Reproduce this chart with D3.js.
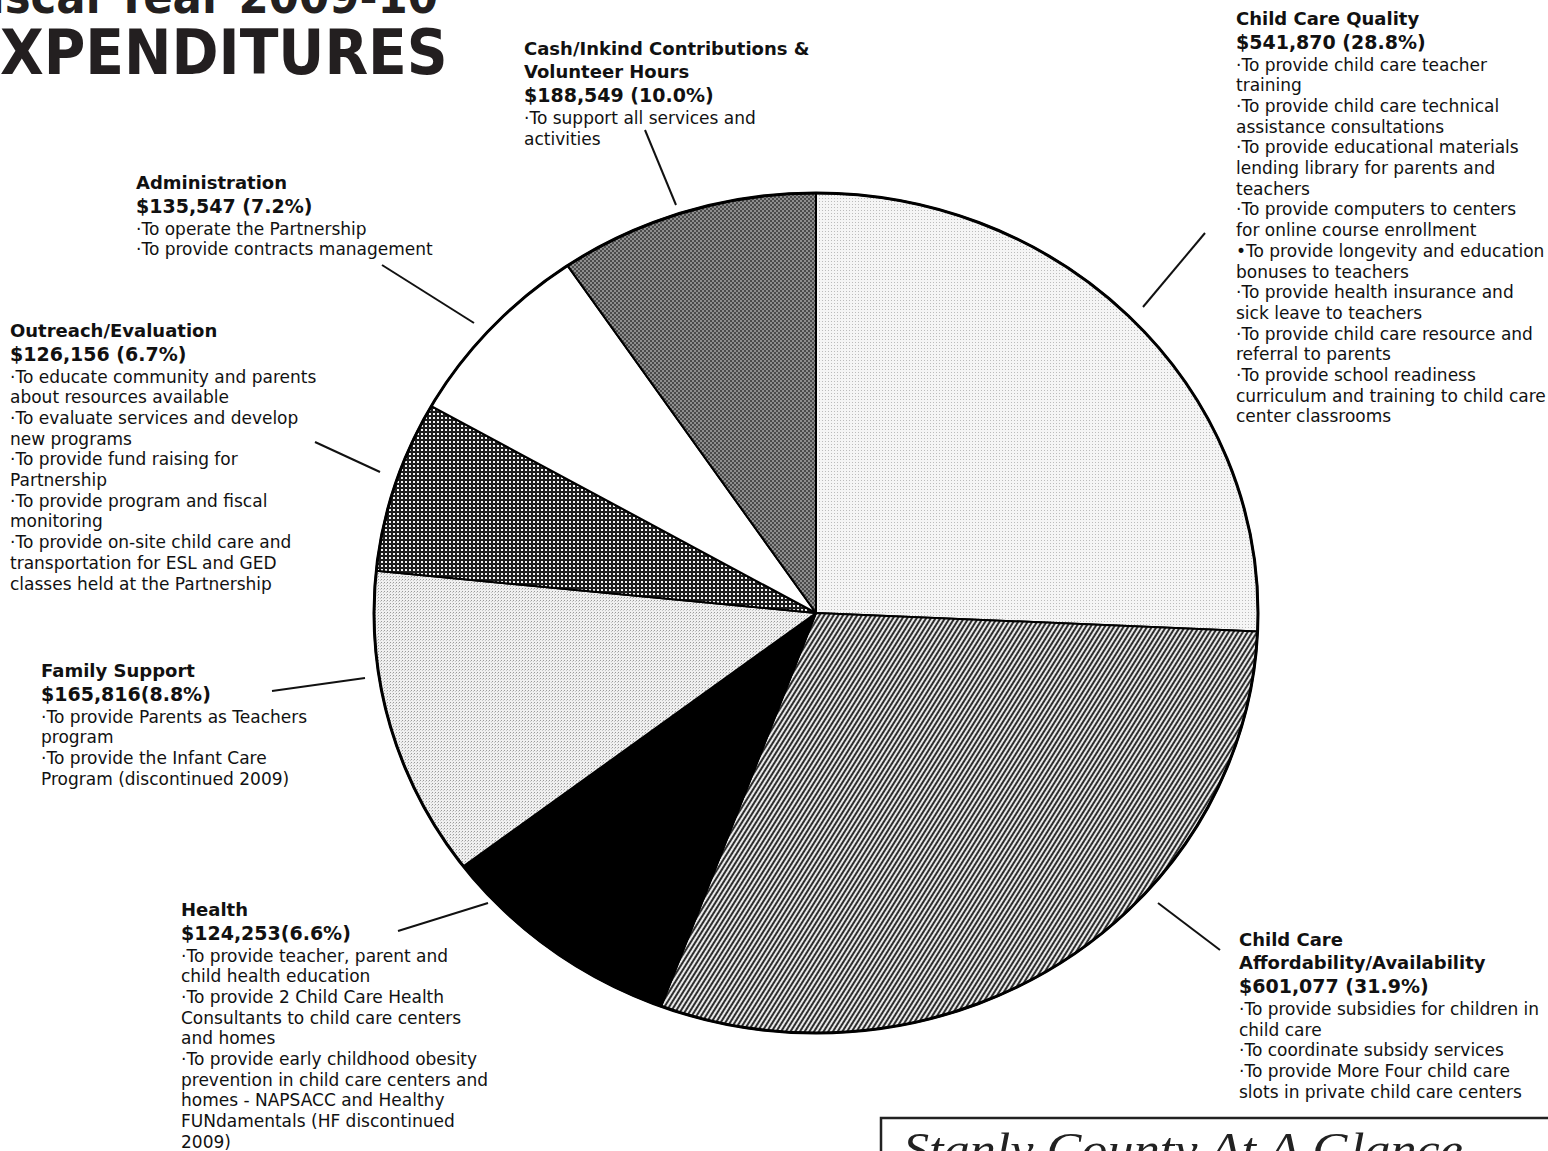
<!DOCTYPE html>
<html>
<head>
<meta charset="utf-8">
<script src="https://cdn.jsdelivr.net/npm/d3@7"></script>
<style>
  html, body { margin: 0; padding: 0; background: #fff; overflow: hidden; }
  svg { display: block; }
</style>
</head>
<body>
<svg id="chart" width="1548" height="1151"></svg>
<script>
// ---------------- DATA ----------------
const categories = [
  "Child Care Quality",
  "Child Care Affordability/Availability",
  "Health",
  "Family Support",
  "Outreach/Evaluation",
  "Administration",
  "Cash/Inkind Contributions & Volunteer Hours"
];
const amounts = [541870, 601077, 124253, 165816, 126156, 135547, 188549];
const percentLabels = ["28.8%", "31.9%", "6.6%", "8.8%", "6.7%", "7.2%", "10.0%"];
// slice sizes as actually drawn in the picture (percent of the full circle)
const drawnShares = [25.7, 30.0, 9.0, 11.9, 6.6, 7.3, 9.5];
const titleLines = [
  ["Child Care Quality"],
  ["Child Care", "Affordability/Availability"],
  ["Health"],
  ["Family Support"],
  ["Outreach/Evaluation"],
  ["Administration"],
  ["Cash/Inkind Contributions &", "Volunteer Hours"]
];
const amountSpace = [" ", " ", "", "", " ", " ", " "];
const bulletLines = [
  ["\u00B7To provide child care teacher", "training",
   "\u00B7To provide child care technical", "assistance consultations",
   "\u00B7To provide educational materials", "lending library for parents and", "teachers",
   "\u00B7To provide computers to centers", "for online course enrollment",
   "\u2022To provide longevity and education", "bonuses to teachers",
   "\u00B7To provide health insurance and", "sick leave to teachers",
   "\u00B7To provide child care resource and", "referral to parents",
   "\u00B7To provide school readiness", "curriculum and training to child care", "center classrooms"],
  ["\u00B7To provide subsidies for children in", "child care",
   "\u00B7To coordinate subsidy services",
   "\u00B7To provide More Four child care", "slots in private child care centers"],
  ["\u00B7To provide teacher, parent and", "child health education",
   "\u00B7To provide 2 Child Care Health", "Consultants to child care centers", "and homes",
   "\u00B7To provide early childhood obesity", "prevention in child care centers and",
   "homes - NAPSACC and Healthy", "FUNdamentals (HF discontinued", "2009)"],
  ["\u00B7To provide Parents as Teachers", "program",
   "\u00B7To provide the Infant Care", "Program (discontinued 2009)"],
  ["\u00B7To educate community and parents", "about resources available",
   "\u00B7To evaluate services and develop", "new programs",
   "\u00B7To provide fund raising for", "Partnership",
   "\u00B7To provide program and fiscal", "monitoring",
   "\u00B7To provide on-site child care and", "transportation for ESL and GED", "classes held at the Partnership"],
  ["\u00B7To operate the Partnership", "\u00B7To provide contracts management"],
  ["\u00B7To support all services and", "activities"]
];
const headingTop = "Fiscal Year 2009-10";
const headingMain = "XPENDITURES";
const boxTitle = "Stanly County At A Glance";

// ---------------- LAYOUT / STYLE ----------------
const cx = 816, cy = 613, rx = 442, ry = 420;
const fills = ["url(#dotsLight)", "url(#diag)", "#000", "url(#dotsLight2)", "url(#grid)", "#fff", "url(#checker)"];
const FONT = "'DejaVu Sans', Verdana, sans-serif";
// label block: x, y of first line center; leader line endpoints
const blocks = [
  {x: 1236, y: 18,  line: [1205, 233, 1143, 307]},
  {x: 1239, y: 939, line: [1158, 903, 1220, 950]},
  {x: 181,  y: 909, line: [398, 931, 488, 903]},
  {x: 41,   y: 670, line: [272, 691, 365, 678]},
  {x: 10,   y: 330, line: [315, 442, 380, 472]},
  {x: 136,  y: 182, line: [382, 265, 474, 323]},
  {x: 524,  y: 48,  line: [645, 130, 676, 205]}
];

const svg = d3.select("#chart");
const defs = svg.append("defs");

function pat(id, w, h, build, transform) {
  const p = defs.append("pattern").attr("id", id)
    .attr("patternUnits", "userSpaceOnUse").attr("width", w).attr("height", h);
  if (transform) p.attr("patternTransform", transform);
  build(p);
}
pat("dotsLight", 3, 3, p => {
  p.append("rect").attr("width", 3).attr("height", 3).attr("fill", "#f5f5f5");
  p.append("rect").attr("x", 0).attr("y", 0).attr("width", 1).attr("height", 1).attr("fill", "#bcbcbc");
});
pat("dotsLight2", 3, 3, p => {
  p.append("rect").attr("width", 3).attr("height", 3).attr("fill", "#f0f0f0");
  p.append("rect").attr("x", 0).attr("y", 0).attr("width", 1).attr("height", 1).attr("fill", "#9a9a9a");
  p.append("rect").attr("x", 2).attr("y", 1).attr("width", 1).attr("height", 1).attr("fill", "#c8c8c8");
});
pat("diag", 4, 4, p => {
  p.append("rect").attr("width", 4).attr("height", 4).attr("fill", "#e8e8e8");
  p.append("rect").attr("x", 0).attr("width", 2).attr("height", 4).attr("fill", "#2e2e2e");
}, "rotate(32)");
pat("grid", 4, 4, p => {
  p.append("rect").attr("width", 4).attr("height", 4).attr("fill", "#1c1c1c");
  p.append("rect").attr("x", 1).attr("y", 1).attr("width", 2).attr("height", 2).attr("fill", "#f2f2f2");
});
pat("checker", 4, 4, p => {
  p.append("rect").attr("width", 4).attr("height", 4).attr("fill", "#4a4a4a");
  p.append("rect").attr("x", 0).attr("y", 0).attr("width", 2).attr("height", 2).attr("fill", "#8e8e8e");
  p.append("rect").attr("x", 2).attr("y", 2).attr("width", 2).attr("height", 2).attr("fill", "#8e8e8e");
});

// ---------------- PIE (elliptical) ----------------
const pie = d3.pie().sort(null).value(d => d.share);
const data = categories.map((c, i) => ({name: c, share: drawnShares[i], i}));
const arcs = pie(data);
const px = a => cx + rx * Math.sin(a);
const py = a => cy - ry * Math.cos(a);
function slicePath(d) {
  const large = (d.endAngle - d.startAngle) > Math.PI ? 1 : 0;
  return `M${cx},${cy}L${px(d.startAngle)},${py(d.startAngle)}` +
         `A${rx},${ry} 0 ${large} 1 ${px(d.endAngle)},${py(d.endAngle)}Z`;
}
svg.append("g").selectAll("path").data(arcs).join("path")
  .attr("d", slicePath)
  .attr("fill", d => fills[d.data.i])
  .attr("stroke", "#000").attr("stroke-width", 2).attr("stroke-linejoin", "round");
svg.append("ellipse").attr("cx", cx).attr("cy", cy).attr("rx", rx).attr("ry", ry)
  .attr("fill", "none").attr("stroke", "#000").attr("stroke-width", 3);

// ---------------- LABELS ----------------
const fmt = d3.format("$,");
const lab = svg.append("g").attr("fill", "#111");
categories.forEach((c, i) => {
  const b = blocks[i];
  let y = b.y;
  titleLines[i].forEach(t => {
    lab.append("text").attr("x", b.x).attr("y", y + 6.5)
      .attr("font-family", FONT).attr("font-weight", 700)
      .attr("font-size", 18).text(t);
    y += 23.5;
  });
  lab.append("text").attr("x", b.x).attr("y", y + 7)
    .attr("font-family", FONT).attr("font-weight", 700)
    .attr("font-size", 19).text(fmt(amounts[i]) + amountSpace[i] + "(" + percentLabels[i] + ")");
  y += 23;
  bulletLines[i].forEach(t => {
    lab.append("text").attr("x", b.x).attr("y", y + 6)
      .attr("font-family", FONT).attr("font-size", 17).text(t);
    y += 20.7;
  });
  svg.append("line")
    .attr("x1", b.line[0]).attr("y1", b.line[1]).attr("x2", b.line[2]).attr("y2", b.line[3])
    .attr("stroke", "#111").attr("stroke-width", 2);
});

// ---------------- HEADING ----------------
const head = svg.append("text").attr("transform", "scale(0.915,1)")
  .attr("font-family", FONT).attr("font-weight", 700).attr("fill", "#231f20");
head.append("tspan").attr("x", -43.6).attr("y", 13).attr("font-size", 47.5).text(headingTop);
head.append("tspan").attr("x", 0).attr("y", 74).attr("font-size", 62).text(headingMain);

// ---------------- BOX ----------------
svg.append("rect").attr("x", 881).attr("y", 1118).attr("width", 700).attr("height", 100)
  .attr("fill", "#fff").attr("stroke", "#222").attr("stroke-width", 2.5);
svg.append("text").attr("x", 903).attr("y", 1165)
  .attr("font-family", "'Liberation Serif', serif").attr("font-style", "italic")
  .attr("font-size", 46).attr("fill", "#222")
  .attr("textLength", 560).attr("lengthAdjust", "spacingAndGlyphs").text(boxTitle);
</script>
</body>
</html>
